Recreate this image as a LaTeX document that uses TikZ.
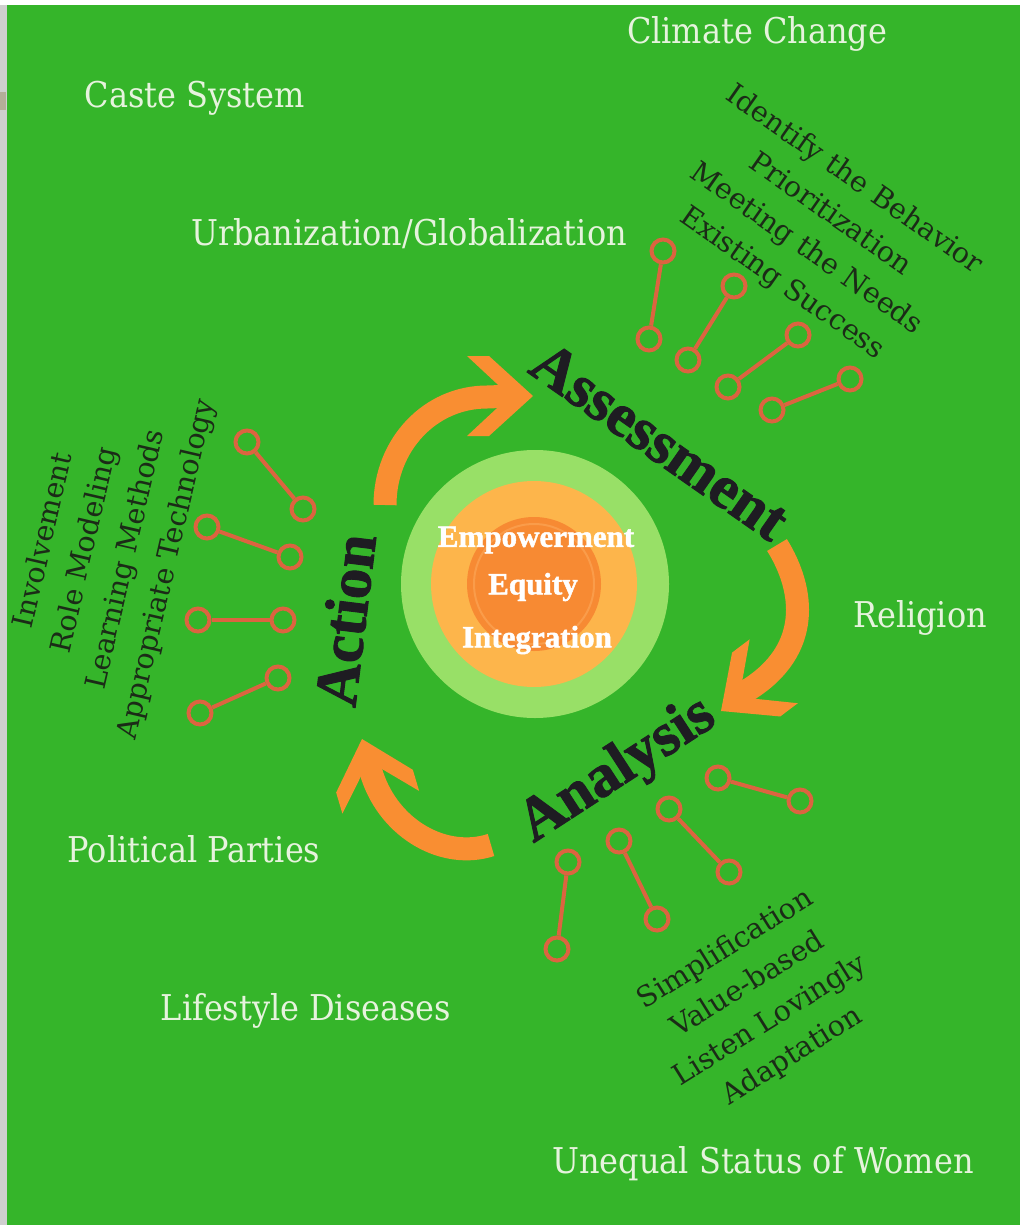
\documentclass[tikz,border=0pt]{standalone}
\usepackage{fontspec}
\setmainfont{DejaVu Serif}
\newfontfamily\rotulo{DejaVu Serif Condensed}
\newfontfamily\titulo{Liberation Serif Bold}[FakeBold=1.5]

\definecolor{fundo}{HTML}{35B52A}
\definecolor{cinza}{HTML}{CFCFCF}
\definecolor{marca}{HTML}{B4AE98}
\definecolor{claro}{HTML}{E6F3DD}
\definecolor{tinta}{HTML}{1B2B17}
\definecolor{escuro}{HTML}{1E1C22}
\definecolor{laranja}{HTML}{F98E32}
\definecolor{pirulito}{HTML}{DC6440}
\definecolor{verdeclaro}{HTML}{98E067}
\definecolor{amarelo}{HTML}{FDB54B}
\definecolor{laranjaforte}{HTML}{F78A33}
\definecolor{anel}{HTML}{FA9C4A}

\tikzset{
  fator/.style={text=claro, font=\rotulo\fontsize{35.5}{42}\selectfont},
  etapa/.style={text=escuro, font=\titulo\fontsize{61}{70}\selectfont},
  lista/.style={text=tinta, align=center, font=\fontsize{28.5}{42}\selectfont},
  centro/.style={text=white, font=\titulo\fontsize{31}{36}\selectfont},
  pino/.style={circle, draw=pirulito, line width=4pt, minimum size=23pt, inner sep=0pt},
  haste/.style={draw=pirulito, line width=4pt},
  seta/.style={draw=laranja, line width=23pt},
}

% ponta de seta em V: #1 = ponta, #2 = angulo
\newcommand{\pontaseta}[2]{%
  \fill[laranja, shift={#1}, rotate=#2] (0,0) -- (-44,-40) -- (-66,-40) -- (-23,0) -- (-66,40) -- (-44,40) -- cycle;}

\begin{document}
\begin{tikzpicture}[x=1pt, y=-1pt]
	\useasboundingbox (0,0) rectangle (1020,1225);

	% O fundo
		\fill[white] (0,0) rectangle (1020,1225);
		\fill[fundo] (7,5) rectangle (1020,1225);
		\fill[cinza] (0,5) rectangle (7,1225);
		\fill[marca] (0,92) rectangle (6,110);

	% Os fatores em volta
		\node[fator] (clima) at (757,34) {Climate Change};
		\node[fator] (casta) at (195,98) {Caste System};
		\node[fator] (urbano) at (409,234) {Urbanization/Globalization};
		\node[fator] (religiao) at (920,618) {Religion};
		\node[fator] (politica) at (194,849) {Political Parties};
		\node[fator] (estilo) at (306,1011) {Lifestyle Diseases};
		\node[fator] (mulheres) at (763,1164) {Unequal Status of Women};

	% Os circulos do meio
		\fill[verdeclaro] (535,584) circle (134pt);
		\fill[amarelo] (534,584) circle (103pt);
		\fill[laranjaforte] (534,584) circle (67pt);
		\draw[anel, line width=2pt] (534,584) circle (60pt);
		\node[centro] (empoderamento) at (536,540) {Empowerment};
		\node[centro] (equidade) at (533,587) {Equity};
		\node[centro] (integracao) at (537,640) {Integration};

	% As setas do ciclo
		\draw[seta] (385,505) .. controls (385,445) and (430,397) .. (487,397) -- (515,396);
		\pontaseta{(533,396)}{0}
		\draw[seta] (777,545) .. controls (805,590) and (812,650) .. (748,690) -- (735,700);
		\pontaseta{(721,711)}{217}
		\draw[seta] (491,845) .. controls (445,860) and (390,830) .. (372,775) -- (367,757);
		\pontaseta{(362,739)}{106.5}

	% As etapas
		\node[etapa, rotate=-35] (assessment) at (660,441) {Assessment};
		\node[etapa, rotate=83] (action) at (345,620) {Action};
		\node[etapa, rotate=33] (analysis) at (618,771) {Analysis};

	% As listas de cada etapa
		\node[lista, rotate=-35] (assessmentlista) at (818,232) {Identify the Behavior\\Prioritization\\Meeting the Needs\\Existing Success};
		\node[lista, rotate=77] (actionlista) at (106,555) {Involvement\\Role Modeling\\Learning Methods\\Appropriate Technology};
		\node[lista, rotate=32] (analysislista) at (759,1003) {Simplification\\Value-based\\Listen Lovingly\\Adaptation};

	% Os pirulitos
		\node[pino] (t1a) at (663,251) {}; \node[pino] (t1b) at (649,339) {}; \draw[haste] (t1a) -- (t1b);
		\node[pino] (t2a) at (734,286) {}; \node[pino] (t2b) at (688,360) {}; \draw[haste] (t2a) -- (t2b);
		\node[pino] (t3a) at (798,335) {}; \node[pino] (t3b) at (728,387) {}; \draw[haste] (t3a) -- (t3b);
		\node[pino] (t4a) at (850,379) {}; \node[pino] (t4b) at (772,410) {}; \draw[haste] (t4a) -- (t4b);

		\node[pino] (l1a) at (247,442) {}; \node[pino] (l1b) at (303,509) {}; \draw[haste] (l1a) -- (l1b);
		\node[pino] (l2a) at (207,527) {}; \node[pino] (l2b) at (290,557) {}; \draw[haste] (l2a) -- (l2b);
		\node[pino] (l3a) at (198,620) {}; \node[pino] (l3b) at (283,620) {}; \draw[haste] (l3a) -- (l3b);
		\node[pino] (l4a) at (278,678) {}; \node[pino] (l4b) at (200,713) {}; \draw[haste] (l4a) -- (l4b);

		\node[pino] (b1a) at (568,862) {}; \node[pino] (b1b) at (557,949) {}; \draw[haste] (b1a) -- (b1b);
		\node[pino] (b2a) at (619,841) {}; \node[pino] (b2b) at (657,919) {}; \draw[haste] (b2a) -- (b2b);
		\node[pino] (b3a) at (669,809) {}; \node[pino] (b3b) at (729,872) {}; \draw[haste] (b3a) -- (b3b);
		\node[pino] (b4a) at (718,778) {}; \node[pino] (b4b) at (800,801) {}; \draw[haste] (b4a) -- (b4b);
\end{tikzpicture}
\end{document}
